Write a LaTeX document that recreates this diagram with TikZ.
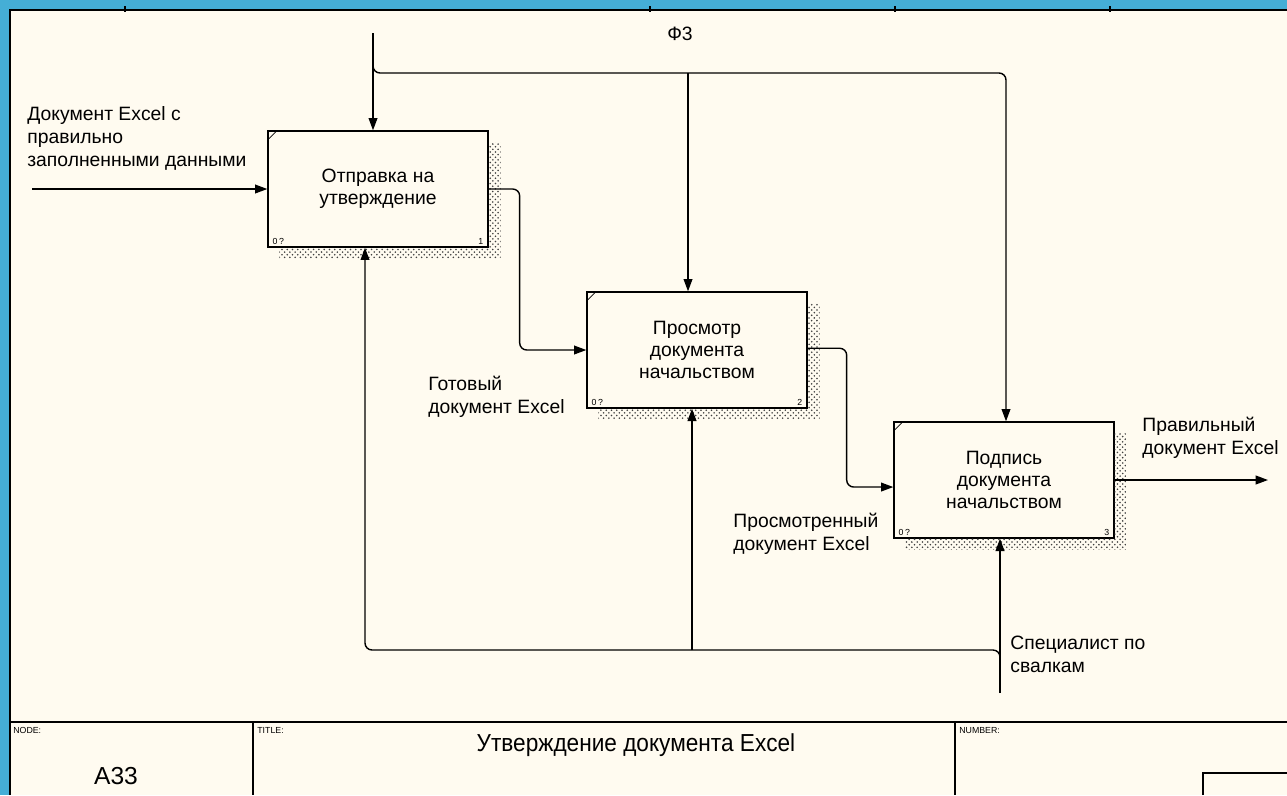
\documentclass[tikz,border=0pt]{standalone}
\usepackage{fontspec}
\setmainfont{Liberation Sans}
\usetikzlibrary{arrows.meta,patterns,calc,positioning}
\definecolor{IDBlue}{HTML}{45AED6}
\definecolor{IDPaper}{HTML}{FFFBF0}
\definecolor{IDShade}{HTML}{404040}

\tikzset{
  func/.style={draw,line width=0.8pt,fill=IDPaper,minimum width=4.4cm,minimum height=2.32cm,
    align=center,inner sep=0pt,font=\fontsize{11}{12.5}\selectfont},
  flow/.style={draw,line width=0.8pt,rounded corners=4pt,-{Triangle[length=7pt,width=5pt]}},
  lbl/.style={align=left,inner sep=0pt,font=\fontsize{11}{13}\selectfont},
  tiny/.style={inner sep=0pt,font=\fontsize{5}{6}\selectfont},
}
% shadow, corner mark and numbers of a function box
\newcommand\boxdeco[2]{%
  \fill[pattern=crosshatch dots,pattern color=IDShade]
    ($(#1.north east)+(0,12)$) -- ($(#1.north east)+(12,12)$) -- ($(#1.south east)+(12,11)$)
    -- ($(#1.south west)+(12,11)$) -- ($(#1.south west)+(12,0)$) -- (#1.south east) -- cycle;
  \draw[line width=0.4pt] ($(#1.north west)+(0,10)$) -- ($(#1.north west)+(10,0)$);
  \node[tiny,anchor=south west] at ($(#1.south west)+(5,-3)$) {0\,?};
  \node[tiny,anchor=south east] at ($(#1.south east)+(-5,-3)$) {#2};
}

\begin{document}
\begin{tikzpicture}[x=0.02cm,y=-0.02cm]
\path[use as bounding box] (0,0) rectangle (1287,795);
\fill[IDBlue] (0,0) rectangle (1287,795);
\fill[IDPaper] (10,10) rectangle (1287,795);
\draw[line width=1.2pt] (10,795) -- (10,10) -- (1287,10);
\foreach \x in {125,650,895,1110}
  \draw[line width=0.8pt] (\x,6) -- (\x,12);

% function boxes
\node[func] (box1) at (378,189) {Отправка на\\утверждение};
\node[func] (box2) at (697,350) {Просмотр\\документа\\начальством};
\node[func] (box3) at (1004,480) {Подпись\\документа\\начальством};
\boxdeco{box1}{1}
\boxdeco{box2}{2}
\boxdeco{box3}{3}

% free ends
\coordinate (inL) at (32,189);
\coordinate (ctlTop) at (373,33);
\coordinate (ctlR) at (1006,73);
\coordinate (ctlM) at (688,73);
\coordinate (outR) at (1268,480);
\coordinate (mechB) at (1000,693);
\coordinate (mechJ) at (1000,658);
\coordinate (mechL) at (365,650);
\coordinate (mechM) at (692,650);

% input and output
\draw[flow] (inL) -- (box1.west);
\draw[flow] (box1.east) -- ++(31,0) |- (box2.west);
\draw[flow] ([yshift=1pt]box2.east) -- ++(39,0) |- ([yshift=-4pt]box3.west);
\draw[flow] (box3.east) -- (outR);

% control
\draw[flow] (ctlTop) -- (ctlTop |- box1.north);
\draw[flow] (ctlTop) -- (ctlTop |- ctlR) -- (ctlR) -- (ctlR |- box3.north);
\draw[flow] (ctlM) -- (ctlM |- box2.north);

% mechanism
\draw[flow] (mechB) -- (mechB |- box3.south);
\draw[flow] (mechJ) |- (mechL) -- (mechL |- box1.south);
\draw[flow] (mechM) -- (mechM |- box2.south);

% labels
\node[lbl] (ctlLbl) at (680,34) {Ф3};
\node[lbl,anchor=north west] (inLbl) at (27,106) {Документ Excel с\\правильно\\заполненными данными};
\node[lbl,anchor=north west] (readyLbl) at (428,376) {Готовый\\документ Excel};
\node[lbl,anchor=north west] (seenLbl) at (733,513) {Просмотренный\\документ Excel};
\node[lbl,anchor=north west] (outLbl) at (1142,417) {Правильный\\документ Excel};
\node[lbl,anchor=north west] (mechLbl) at (1010,636) {Специалист по\\свалкам};

% title block
\draw[line width=1pt] (10,722) -- (1287,722);
\draw[line width=0.8pt] (253,722) -- (253,795);
\draw[line width=0.8pt] (955,722) -- (955,795);
\draw[line width=0.8pt] (1203,795) |- (1287,773);
\node[tiny,anchor=north west] (nodeHd) at (13,727) {NODE:};
\node[tiny,anchor=north west] (titleHd) at (257,727) {TITLE:};
\node[tiny,anchor=north west] (numHd) at (959,727) {NUMBER:};
\node[inner sep=0pt,font=\fontsize{14}{16}\selectfont] (nodeNo) at (116,776) {A33};
\node[inner sep=0pt,font=\fontsize{14}{16}\selectfont,xscale=0.92] (title) at (636,745) {Утверждение документа Excel};
\end{tikzpicture}
\end{document}
